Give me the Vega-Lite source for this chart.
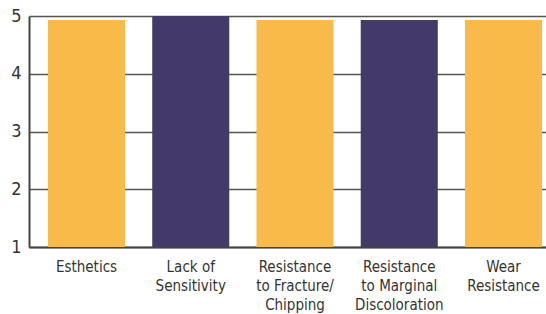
{
  "$schema": "https://vega.github.io/schema/vega-lite/v6.json",
  "width": 532,
  "height": 231,
  "autosize": {"type": "none"},
  "padding": {"left": 29, "top": 16, "right": 0, "bottom": 67},
  "data": {
    "values": [
      {"category": "Esthetics", "score": 4.93, "group": "A"},
      {"category": "Lack of|Sensitivity", "score": 5.0, "group": "B"},
      {"category": "Resistance|to Fracture/|Chipping", "score": 4.93, "group": "A"},
      {"category": "Resistance|to Marginal|Discoloration", "score": 4.93, "group": "B"},
      {"category": "Wear|Resistance", "score": 4.93, "group": "A"}
    ]
  },
  "mark": {"type": "bar"},
  "encoding": {
    "x": {
      "field": "category",
      "type": "nominal",
      "sort": null,
      "scale": {"paddingInner": 0.261, "paddingOuter": 0.182},
      "axis": {
        "title": null,
        "labelAngle": 0,
        "labelExpr": "split(datum.label, '|')",
        "labelFont": "DejaVu Sans Condensed",
        "labelFontSize": 15,
        "labelLineHeight": 19,
        "labelColor": "#333333",
        "labelPadding": 12,
        "ticks": false,
        "domainColor": "#444444",
        "domainWidth": 2
      }
    },
    "y": {
      "field": "score",
      "type": "quantitative",
      "scale": {"domain": [1, 5], "nice": false, "zero": false},
      "axis": {
        "title": null,
        "values": [1, 2, 3, 4, 5],
        "grid": true,
        "gridColor": "#555555",
        "gridWidth": 1.5,
        "gridOpacity": 1,
        "ticks": false,
        "labelFont": "DejaVu Sans Condensed",
        "labelFontSize": 18,
        "labelColor": "#333333",
        "labelPadding": 8,
        "domainColor": "#444444",
        "domainWidth": 2
      }
    },
    "y2": {"datum": 1},
    "color": {
      "field": "group",
      "type": "nominal",
      "scale": {"domain": ["A", "B"], "range": ["#F8BB4A", "#433A6A"]},
      "legend": null
    }
  },
  "config": {"view": {"stroke": null}}
}
